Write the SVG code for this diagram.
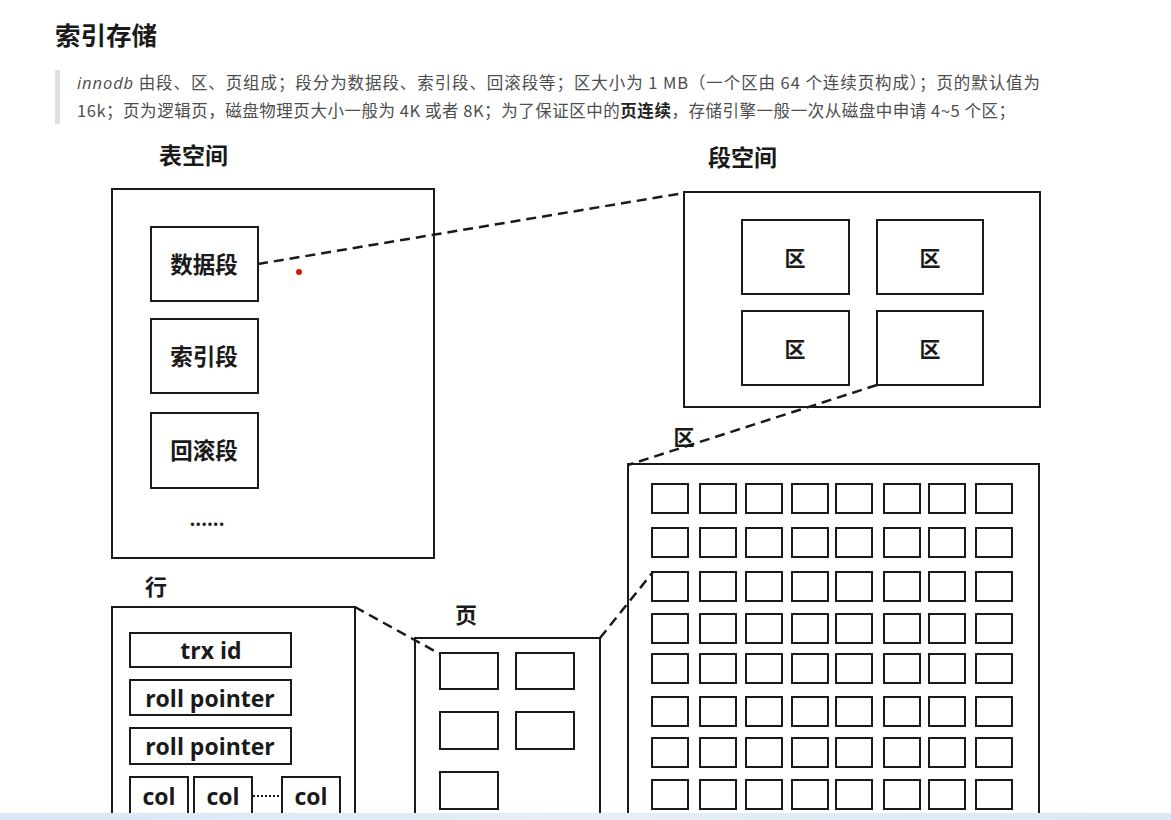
<svg xmlns="http://www.w3.org/2000/svg" width="1171" height="820" viewBox="0 0 1171 820">
<defs>
<style>
.box{fill:none;stroke:#1a1a1a;stroke-width:2}
.ibox{fill:#fff;stroke:#1a1a1a;stroke-width:2}
.dash{fill:none;stroke:#1a1a1a;stroke-width:2.5;stroke-dasharray:10 6}
.lbl{font-family:"Noto Sans CJK SC","Noto Sans",sans-serif;font-weight:bold;fill:#1a1a1a}
.cn{font-family:"Noto Sans CJK SC",sans-serif;font-weight:bold;fill:#1a1a1a;text-anchor:middle}
.en{font-family:"Open Sans","Noto Sans",sans-serif;font-weight:bold;fill:#1a1a1a;text-anchor:middle;font-size:23px}
.para{font-family:"Noto Sans CJK SC","Noto Sans",sans-serif;font-size:16.5px;fill:#4d4d4d}
</style>
<linearGradient id="bar" x1="0" y1="0" x2="1" y2="0"><stop offset="0" stop-color="#dbe6f6"/><stop offset="0.5" stop-color="#e6edf8"/><stop offset="1" stop-color="#dde7f5"/></linearGradient>
</defs>
<rect x="0" y="0" width="1171" height="820" fill="#fff"/>
<g id="header">
<text x="55" y="45" class="lbl" font-size="25.5">索引存储</text>
<rect x="55" y="70" width="5" height="54" fill="#e0e0e0"/>
<text x="77" y="89" class="para" textLength="963" lengthAdjust="spacing"><tspan font-style="italic" font-family="Open Sans, sans-serif">innodb</tspan> 由段、区、页组成；段分为数据段、索引段、回滚段等；区大小为 1 MB（一个区由 64 个连续页构成）；页的默认值为</text>
<text x="77" y="117" class="para" textLength="938" lengthAdjust="spacing">16k；页为逻辑页，磁盘物理页大小一般为 4K 或者 8K；为了保证区中的<tspan font-weight="bold" fill="#222">页连续</tspan>，存储引擎一般一次从磁盘中申请 4~5 个区；</text>
</g>
<g id="connectors">
<line x1="258" y1="264" x2="684" y2="193" class="dash"/>
<line x1="877" y1="385" x2="628" y2="465" class="dash"/>
<line x1="355" y1="607" x2="440" y2="654" class="dash"/>
<line x1="600" y1="638" x2="653" y2="572" class="dash"/>
</g>
<g id="tablespace">
<text x="159" y="164" class="lbl" font-size="23">表空间</text>
<rect x="112" y="189" width="322" height="369" class="box"/>
<g id="seg-data"><rect x="151" y="227" width="107" height="74" class="ibox"/><text x="204" y="273" class="cn" font-size="22.5">数据段</text></g>
<g id="seg-index"><rect x="151" y="319" width="107" height="74" class="ibox"/><text x="204" y="365" class="cn" font-size="22.5">索引段</text></g>
<g id="seg-rollback"><rect x="151" y="413" width="107" height="75" class="ibox"/><text x="204" y="459" class="cn" font-size="22.5">回滚段</text></g>
<text x="207" y="526" class="cn" font-size="18">......</text>
<circle cx="299" cy="272" r="3" fill="#e01010"/>
</g>
<g id="segspace">
<text x="708" y="166" class="lbl" font-size="23">段空间</text>
<rect x="684" y="192" width="356" height="215" class="box"/>
<g id="ext1"><rect x="742" y="220" width="107" height="74" class="ibox"/><text x="795" y="266" class="cn" font-size="21">区</text></g>
<g id="ext2"><rect x="877" y="220" width="106" height="74" class="ibox"/><text x="930" y="266" class="cn" font-size="21">区</text></g>
<g id="ext3"><rect x="742" y="311" width="107" height="74" class="ibox"/><text x="795" y="357" class="cn" font-size="21">区</text></g>
<g id="ext4"><rect x="877" y="311" width="106" height="74" class="ibox"/><text x="930" y="357" class="cn" font-size="21">区</text></g>
</g>
<g id="extent">
<text x="684" y="445" class="cn" font-size="21">区</text>
<rect x="628" y="464" width="411" height="360" class="box"/>
<g fill="none" stroke="#1a1a1a" stroke-width="2">
<rect x="652" y="484" width="36" height="29"/><rect x="700" y="484" width="36" height="29"/><rect x="746" y="484" width="36" height="29"/><rect x="792" y="484" width="36" height="29"/><rect x="836" y="484" width="36" height="29"/><rect x="884" y="484" width="36" height="29"/><rect x="929" y="484" width="36" height="29"/><rect x="976" y="484" width="36" height="29"/>
<rect x="652" y="528" width="36" height="29"/><rect x="700" y="528" width="36" height="29"/><rect x="746" y="528" width="36" height="29"/><rect x="792" y="528" width="36" height="29"/><rect x="836" y="528" width="36" height="29"/><rect x="884" y="528" width="36" height="29"/><rect x="929" y="528" width="36" height="29"/><rect x="976" y="528" width="36" height="29"/>
<rect x="652" y="572" width="36" height="29"/><rect x="700" y="572" width="36" height="29"/><rect x="746" y="572" width="36" height="29"/><rect x="792" y="572" width="36" height="29"/><rect x="836" y="572" width="36" height="29"/><rect x="884" y="572" width="36" height="29"/><rect x="929" y="572" width="36" height="29"/><rect x="976" y="572" width="36" height="29"/>
<rect x="652" y="614" width="36" height="29"/><rect x="700" y="614" width="36" height="29"/><rect x="746" y="614" width="36" height="29"/><rect x="792" y="614" width="36" height="29"/><rect x="836" y="614" width="36" height="29"/><rect x="884" y="614" width="36" height="29"/><rect x="929" y="614" width="36" height="29"/><rect x="976" y="614" width="36" height="29"/>
<rect x="652" y="654" width="36" height="29"/><rect x="700" y="654" width="36" height="29"/><rect x="746" y="654" width="36" height="29"/><rect x="792" y="654" width="36" height="29"/><rect x="836" y="654" width="36" height="29"/><rect x="884" y="654" width="36" height="29"/><rect x="929" y="654" width="36" height="29"/><rect x="976" y="654" width="36" height="29"/>
<rect x="652" y="697" width="36" height="29"/><rect x="700" y="697" width="36" height="29"/><rect x="746" y="697" width="36" height="29"/><rect x="792" y="697" width="36" height="29"/><rect x="836" y="697" width="36" height="29"/><rect x="884" y="697" width="36" height="29"/><rect x="929" y="697" width="36" height="29"/><rect x="976" y="697" width="36" height="29"/>
<rect x="652" y="738" width="36" height="29"/><rect x="700" y="738" width="36" height="29"/><rect x="746" y="738" width="36" height="29"/><rect x="792" y="738" width="36" height="29"/><rect x="836" y="738" width="36" height="29"/><rect x="884" y="738" width="36" height="29"/><rect x="929" y="738" width="36" height="29"/><rect x="976" y="738" width="36" height="29"/>
<rect x="652" y="780" width="36" height="29"/><rect x="700" y="780" width="36" height="29"/><rect x="746" y="780" width="36" height="29"/><rect x="792" y="780" width="36" height="29"/><rect x="836" y="780" width="36" height="29"/><rect x="884" y="780" width="36" height="29"/><rect x="929" y="780" width="36" height="29"/><rect x="976" y="780" width="36" height="29"/>
</g>
</g>
<g id="row">
<text x="145" y="595" class="lbl" font-size="22">行</text>
<rect x="112" y="607" width="243" height="220" class="box"/>
<g id="f-trx"><rect x="130" y="633" width="161" height="34" class="ibox"/><text x="211" y="659" class="en">trx id</text></g>
<g id="f-roll1"><rect x="130" y="680" width="161" height="35" class="ibox"/><text x="210" y="707" class="en">roll pointer</text></g>
<g id="f-roll2"><rect x="130" y="728" width="161" height="36" class="ibox"/><text x="210" y="755" class="en">roll pointer</text></g>
<g id="f-col1"><rect x="130" y="777" width="58" height="50" class="ibox"/><text x="159" y="805" class="en">col</text></g>
<g id="f-col2"><rect x="194" y="777" width="58" height="50" class="ibox"/><text x="223" y="805" class="en">col</text></g>
<line x1="253" y1="796" x2="281" y2="796" stroke="#1a1a1a" stroke-width="2" stroke-dasharray="2 2"/>
<g id="f-col3"><rect x="282" y="777" width="58" height="50" class="ibox"/><text x="311" y="805" class="en">col</text></g>
</g>
<g id="page">
<text x="455" y="623" class="lbl" font-size="22">页</text>
<rect x="415" y="638" width="185" height="190" class="box"/>
<rect x="440" y="653" width="58" height="36" class="ibox"/>
<rect x="516" y="653" width="58" height="36" class="ibox"/>
<rect x="440" y="712" width="58" height="37" class="ibox"/>
<rect x="516" y="712" width="58" height="37" class="ibox"/>
<rect x="440" y="772" width="58" height="37" class="ibox"/>
</g>
<rect x="0" y="813" width="1171" height="7" fill="url(#bar)"/>
</svg>
